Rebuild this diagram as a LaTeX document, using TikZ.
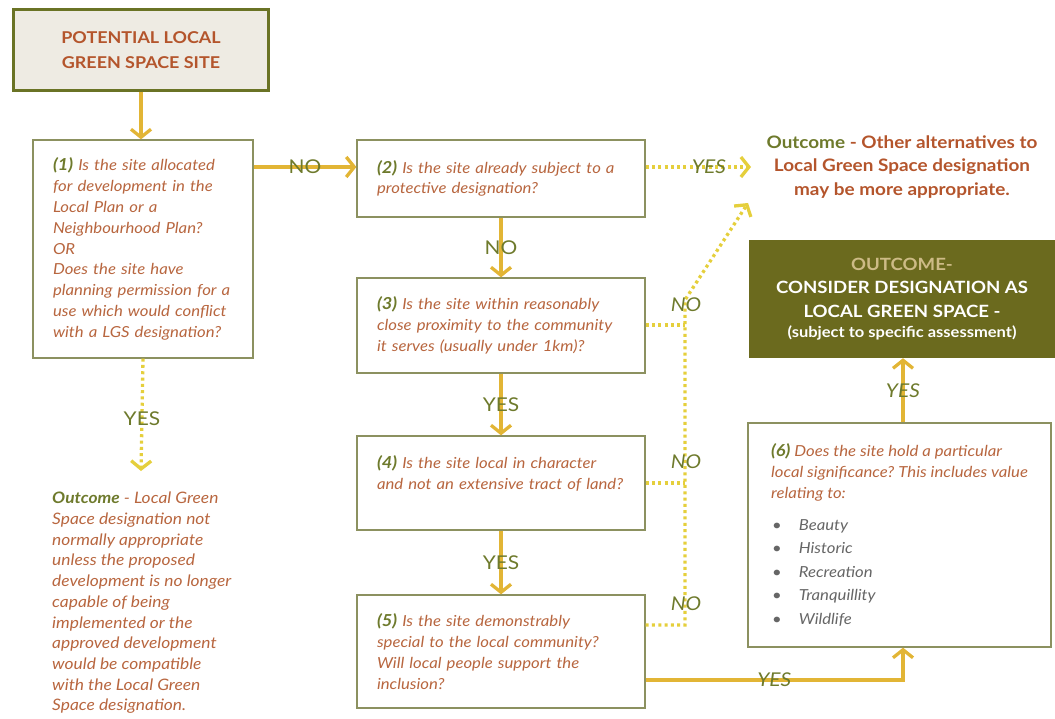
\documentclass[tikz,border=0pt]{standalone}
\usepackage{fontspec}
\setmainfont{Lato}[FakeStretch=1.1]
\usetikzlibrary{arrows.meta,calc}
\definecolor{brn}{HTML}{B8663F}
\definecolor{ttl}{HTML}{B4552C}
\definecolor{olv}{HTML}{6E7A2C}
\definecolor{gold}{HTML}{E2B535}
\definecolor{dotc}{HTML}{E5CF3C}
\definecolor{bord}{HTML}{8C9160}
\definecolor{gbox}{HTML}{6B6A1E}
\definecolor{topfill}{HTML}{EEEBE3}
\definecolor{topbord}{HTML}{6A7325}
\definecolor{tanc}{HTML}{CDBB86}
\definecolor{gry}{HTML}{666666}
\newcommand\qnum[1]{{\fontsize{16.5}{20.8}\selectfont\bfseries\color{olv}#1}}
\newcommand\bul[1]{\hspace*{1pt}\textbullet\hspace{17pt}#1}
\frenchspacing
\begin{document}
\begin{tikzpicture}[x=1pt,y=-1pt,
  qbox/.style={draw=bord, line width=1.3pt, fill=white, inner xsep=20pt, inner ysep=0pt,
    align=left, text=brn, font=\fontsize{15.2}{20.8}\selectfont\itshape},
  solidarr/.style={draw=gold, line width=3.3pt, -{Straight Barb[length=8pt,width=20pt]}},
  dotline/.style={draw=dotc, line width=3.3pt, dash pattern=on 3pt off 3.3pt},
  dotarr/.style={dotline, -{Straight Barb[length=8pt,width=20pt]}},
  lab/.style={text=olv, font=\fontsize{19}{19}\selectfont, inner sep=1pt},
  ilab/.style={lab, font=\fontsize{19}{19}\selectfont\itshape}]
\useasboundingbox (0,0) rectangle (1055,719);

% row coordinates
\coordinate (r1) at (0,167);
\coordinate (r325) at (0,325);
\coordinate (r483) at (0,483);
\coordinate (r625) at (0,625);
\coordinate (c680) at (903,680);
\coordinate (tipA) at (751,167);
\coordinate (tipB) at (748,203);
\coordinate (tipC) at (141,471);
\coordinate (colT) at (685,300);
\coordinate (colB) at (685,625);

% nodes
\node[draw=topbord, line width=3pt, fill=topfill, minimum width=255pt, minimum height=81pt,
      align=center, text=ttl, font=\fontsize{16.3}{25}\selectfont\bfseries] (t) at (141,50)
  {POTENTIAL LOCAL\\GREEN SPACE SITE};

\node[qbox, text width=180pt, minimum height=218pt] (b1) at (143,249)
  {\qnum{(1)} Is the site allocated\\for development in the\\Local Plan or a\\Neighbourhood Plan?\\OR\\Does the site have\\planning permission for a\\use which would conflict\\with a LGS designation?};

\node[qbox, text width=248pt, minimum height=77pt] (b2) at (501,178.5)
  {\qnum{(2)} Is the site already subject to a\\protective designation?};

\node[qbox, text width=248pt, minimum height=95pt] (b3) at (501,325.5)
  {\qnum{(3)} Is the site within reasonably\\close proximity to the community\\it serves (usually under 1km)?};

\node[qbox, text width=248pt, minimum height=94pt] (b4) at (501,483)
  {\qnum{(4)} Is the site local in character\\and not an extensive tract of land?\\~};

\node[qbox, text width=248pt, minimum height=113pt] (b5) at (501,651.5)
  {\qnum{(5)} Is the site demonstrably\\special to the local community?\\Will local people support the\\inclusion?};

\node[qbox, minimum width=303pt, minimum height=224pt, inner xsep=0pt] (b6) at (899.5,535)
  {\qnum{(6)} Does the site hold a particular\\local significance? This includes value\\relating to:\\[11pt]
   {\color{gry}\bul{Beauty}}\\[2.7pt]
   {\color{gry}\bul{Historic}}\\[2.7pt]
   {\color{gry}\bul{Recreation}}\\[2.7pt]
   {\color{gry}\bul{Tranquillity}}\\[2.7pt]
   {\color{gry}\bul{Wildlife}}};

\node[fill=gbox, minimum width=306pt, minimum height=118pt, align=center, text=white,
      font=\fontsize{16.9}{23.5}\selectfont\bfseries] (g) at (902,299)
  {{\color{tanc}OUTCOME-}\\CONSIDER DESIGNATION AS\\LOCAL GREEN SPACE -\\[-3pt]{\fontsize{15}{16}\selectfont(subject to specific assessment)}};

\node[align=center, text=ttl, font=\fontsize{17.2}{23.5}\selectfont\bfseries, inner sep=0pt] (oalt) at (902,167)
  {{\color{olv}Outcome} - Other alternatives to\\Local Green Space designation\\may be more appropriate.};

\node[align=left, text=brn, font=\fontsize{15.8}{20.7}\selectfont\itshape, inner sep=0pt, anchor=north west] (oleft) at (52,492)
  {{\bfseries\color{olv}Outcome} - Local Green\\Space designation not\\normally appropriate\\unless the proposed\\development is no longer\\capable of being\\implemented or the\\approved development\\would be compatible\\with the Local Green\\Space designation.};

% solid connectors
\draw[solidarr] (t.south) -- (t.south |- b1.north);
\draw[solidarr] (b1.east |- r1) -- node[lab] (l1) {NO} (b2.west |- r1);
\draw[solidarr] (b2.south) -- node[lab] (l2) {NO} (b3.north);
\draw[solidarr] (b3.south) -- node[lab] (l3) {YES} (b4.north);
\draw[solidarr] (b4.south) -- node[lab] (l4) {YES} (b5.north);
\draw[solidarr] (b5.east |- c680) -- node[ilab] (l5) {YES} (c680) -- (b6.south -| c680);
\draw[solidarr] (b6.north -| c680) -- node[ilab] (l6) {YES} (g.south -| c680);

% dotted connectors
\draw[dotarr] (b1.south) -- node[lab, pos=0.53] (l7) {YES} (tipC);
\draw[dotarr] (b2.east |- r1) -- node[ilab, pos=0.6] (l8) {YES} (tipA);
\draw[dotarr] (b5.east |- r625) -- (colB) -- (colT) -- (tipB);
\draw[dotline] (b3.east |- r325) -- (colT |- r325);
\draw[dotline] (b4.east |- r483) -- (colT |- r483);
\node[ilab] (n3) at (686,305) {NO};
\node[ilab] (n4) at (686,462) {NO};
\node[ilab] (n5) at (686,604) {NO};
\end{tikzpicture}
\end{document}
